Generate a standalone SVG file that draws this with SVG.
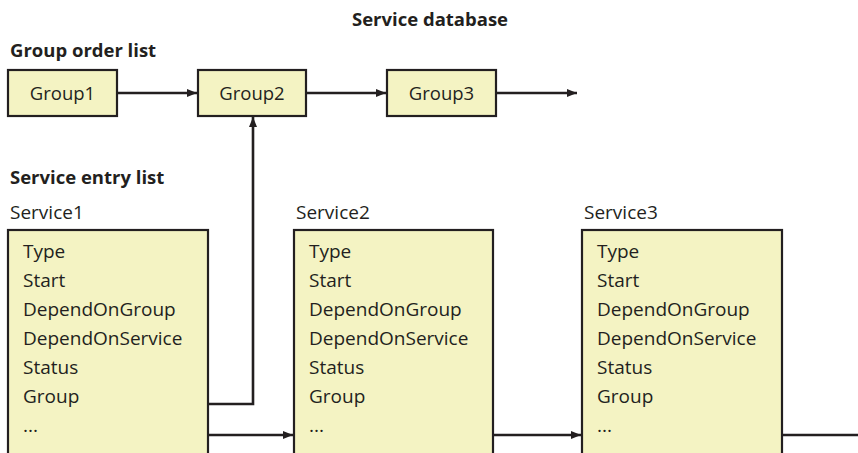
<svg xmlns="http://www.w3.org/2000/svg" width="858" height="453" viewBox="0 0 858 453">
<style>
  text { font-family: "Open Sans", "Liberation Sans", Arial, sans-serif; fill: #231F20; }
  .h { font-weight: bold; font-size: 18.5px; }
  .t { font-size: 19px; }
  .g { font-size: 18.5px; }
  .box { fill: #F4F3C3; stroke: #231F20; stroke-width: 2.2; }
  .ln { fill: none; stroke: #231F20; stroke-width: 2.6; }
</style>
<defs>
  <marker id="ah" markerUnits="userSpaceOnUse" markerWidth="10" markerHeight="10" viewBox="0 0 10 10" refX="10" refY="5" orient="auto">
    <path d="M0,1 L10,5 L0,9 Z" fill="#231F20"/>
  </marker>
</defs>
<text class="h" x="352" y="26">Service database</text>
<text class="h" x="10" y="57">Group order list</text>
<text class="h" x="10" y="184">Service entry list</text>

<g id="group1"><rect class="box" x="8" y="70" width="109" height="46"/><text class="t g" x="62.5" y="100" text-anchor="middle">Group1</text></g>
<g id="group2"><rect class="box" x="198" y="70" width="108" height="46"/><text class="t g" x="252" y="100" text-anchor="middle">Group2</text></g>
<g id="group3"><rect class="box" x="387" y="70" width="109" height="46"/><text class="t g" x="441.5" y="100" text-anchor="middle">Group3</text></g>

<g id="service1">
  <text class="t" x="10" y="219">Service1</text>
  <rect class="box" x="8" y="230" width="200" height="240"/>
  <text class="t" x="23" y="258">Type</text>
  <text class="t" x="23" y="287">Start</text>
  <text class="t" x="23" y="316">DependOnGroup</text>
  <text class="t" x="23" y="345">DependOnService</text>
  <text class="t" x="23" y="374">Status</text>
  <text class="t" x="23" y="403">Group</text>
  <text class="t" x="23" y="432">...</text>
</g>
<g id="service2">
  <text class="t" x="296" y="219">Service2</text>
  <rect class="box" x="294" y="230" width="199" height="240"/>
  <text class="t" x="309" y="258">Type</text>
  <text class="t" x="309" y="287">Start</text>
  <text class="t" x="309" y="316">DependOnGroup</text>
  <text class="t" x="309" y="345">DependOnService</text>
  <text class="t" x="309" y="374">Status</text>
  <text class="t" x="309" y="403">Group</text>
  <text class="t" x="309" y="432">...</text>
</g>
<g id="service3">
  <text class="t" x="584" y="219">Service3</text>
  <rect class="box" x="582" y="230" width="200" height="240"/>
  <text class="t" x="597" y="258">Type</text>
  <text class="t" x="597" y="287">Start</text>
  <text class="t" x="597" y="316">DependOnGroup</text>
  <text class="t" x="597" y="345">DependOnService</text>
  <text class="t" x="597" y="374">Status</text>
  <text class="t" x="597" y="403">Group</text>
  <text class="t" x="597" y="432">...</text>
</g>

<g id="connectors">
  <path class="ln" d="M117,93 H197" marker-end="url(#ah)"/>
  <path class="ln" d="M306,93 H386" marker-end="url(#ah)"/>
  <path class="ln" d="M496,93 H577" marker-end="url(#ah)"/>
  <path class="ln" d="M209,404 H253 V117" marker-end="url(#ah)"/>
  <path class="ln" d="M209,435 H293" marker-end="url(#ah)"/>
  <path class="ln" d="M493,435 H581" marker-end="url(#ah)"/>
  <path class="ln" d="M783,435 H858"/>
</g>
</svg>
